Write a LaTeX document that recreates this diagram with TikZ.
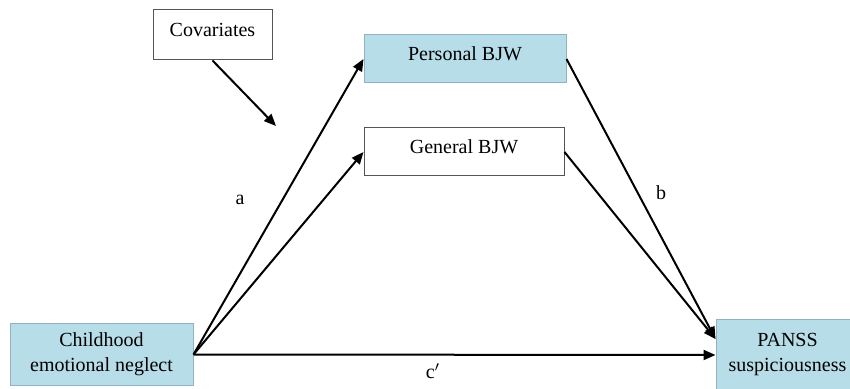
\documentclass[tikz,border=0pt]{standalone}
\usepackage{fontspec}
\setmainfont{Liberation Serif}
\usetikzlibrary{arrows.meta}
\usepackage{xcolor}
\definecolor{BoxBlue}{HTML}{B7DDE8}
\definecolor{BoxEdge}{HTML}{8FB4C0}
\definecolor{PlainEdge}{HTML}{555555}

\tikzset{
  varbox/.style={draw, inner sep=0pt, font=\fontsize{10}{12.5}\selectfont, line width=0.5pt},
  onebox/.style={varbox, text depth=5pt},
  arr/.style={-{Triangle[length=6pt, width=5pt]}, line width=1pt}
}

\begin{document}
\begin{tikzpicture}[x=0.5pt, y=-0.5pt, font=\fontsize{10}{12.5}\selectfont]
                \useasboundingbox (0,0) rectangle (850,389);
                \node[onebox, draw=PlainEdge, fill=white, minimum width=59.5pt, minimum height=25pt] (cov) at (212.5,35) {Covariates};
                \node[onebox, draw=BoxEdge, fill=BoxBlue, minimum width=101pt, minimum height=24pt] (pers) at (465,59) {Personal BJW};
                \node[onebox, draw=PlainEdge, fill=white, minimum width=100pt, minimum height=24pt] (gen) at (464,152) {General BJW};
                \node[varbox, draw=BoxEdge, fill=BoxBlue, align=center, minimum width=91.5pt, minimum height=30.5pt] (cen) at (101.5,354.5) {Childhood\\emotional neglect};
                \node[varbox, draw=BoxEdge, fill=BoxBlue, align=center, minimum width=71.5pt, minimum height=35pt] (panss) at (787.5,355) {PANSS\\suspiciousness};
                \coordinate (covend) at (276,126);
                \coordinate (panssin) at ([yshift=8pt]panss.west);

                \node (a) at (240,200) {a};
                \node (b) at (661,193) {b};
                \node (c) at (433,371) {c$'$};

                \draw[arr] (cov.south) -- (covend);
                \draw[arr] (cen.east) -- (pers.west);
                \draw[arr] (cen.east) -- (gen.west);
                \draw[arr] (cen.east) -- (panss.west);
                \draw[arr] (pers.east) -- (panssin);
                \draw[arr] (gen.east) -- (panssin);
            \end{tikzpicture}
\end{document}
